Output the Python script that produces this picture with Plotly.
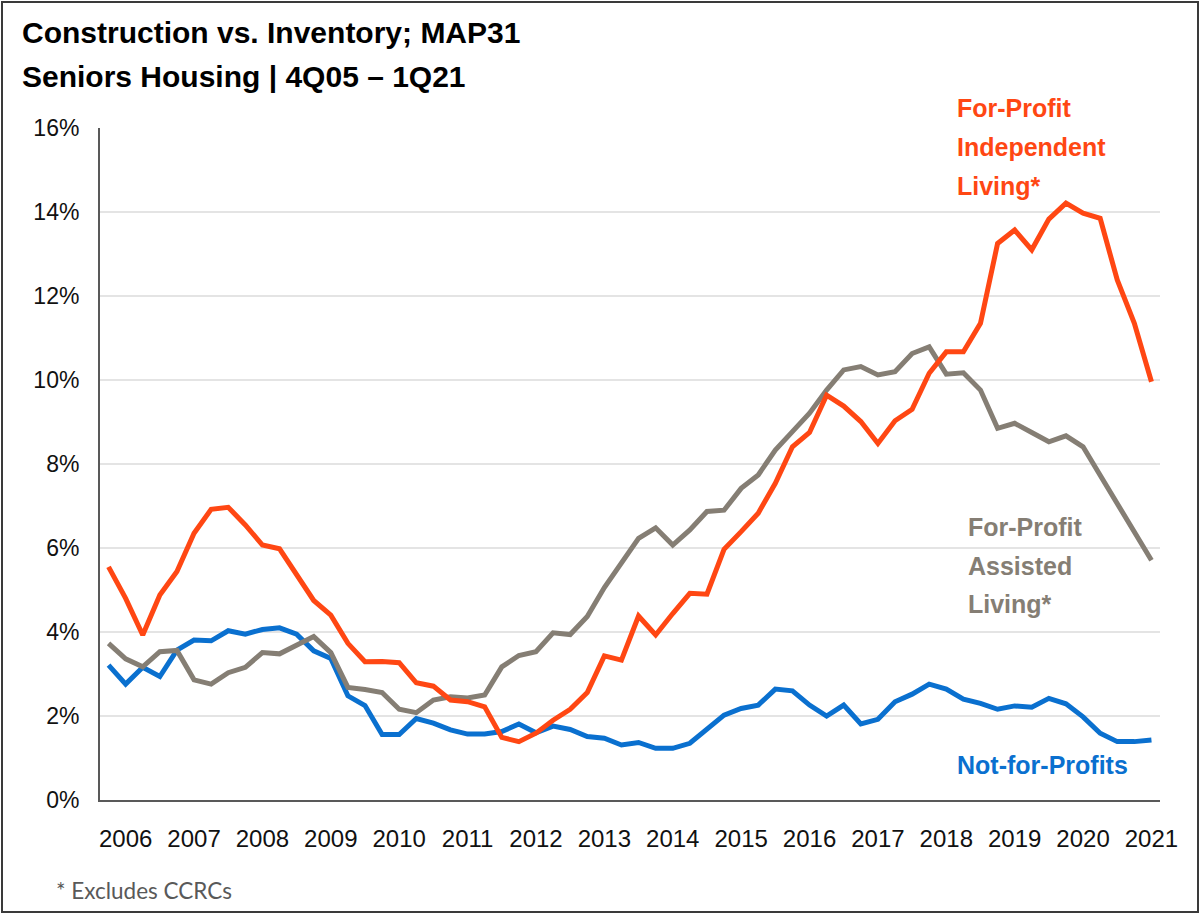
import plotly.graph_objects as go

# Quarter categories 4Q05 .. 1Q21
QUARTERS = ["4Q05"] + [f"{q}Q{y:02d}" for y in range(6, 21) for q in range(1, 5)] + ["1Q21"]

YEAR_TICKS = [f"1Q{y:02d}" for y in range(6, 22)]
YEAR_LABELS = [str(2000 + y) for y in range(6, 22)]

FP_INDEPENDENT = [5.55, 4.80, 3.93, 4.88, 5.44, 6.35, 6.92, 6.97, 6.55, 6.07,
                  5.98, 5.36, 4.75, 4.40, 3.73, 3.29, 3.30, 3.27, 2.79, 2.71,
                  2.38, 2.34, 2.22, 1.49, 1.39, 1.59, 1.90, 2.16, 2.56, 3.43,
                  3.33, 4.38, 3.93, 4.44, 4.92, 4.90, 5.97, 6.39, 6.83, 7.54,
                  8.41, 8.75, 9.64, 9.38, 9.01, 8.49, 9.03, 9.30, 10.16, 10.67,
                  10.67, 11.35, 13.25, 13.57, 13.10, 13.83, 14.21, 13.97, 13.85, 12.38,
                  11.35, 9.96]

FP_ASSISTED = [3.73, 3.36, 3.17, 3.53, 3.56, 2.86, 2.76, 3.03, 3.16, 3.51,
               3.48, 3.69, 3.89, 3.51, 2.68, 2.63, 2.56, 2.16, 2.08, 2.38,
               2.46, 2.43, 2.50, 3.17, 3.44, 3.53, 3.98, 3.94, 4.37, 5.06,
               5.65, 6.23, 6.48, 6.07, 6.43, 6.87, 6.90, 7.42, 7.74, 8.33,
               8.77, 9.21, 9.76, 10.24, 10.32, 10.12, 10.20, 10.63, 10.79, 10.14,
               10.17, 9.76, 8.85, 8.97, 8.75, 8.53, 8.67, 8.41, 7.73, 7.06,
               6.39, 5.71]

NOT_FOR_PROFIT = [3.21, 2.76, 3.16, 2.94, 3.57, 3.81, 3.79, 4.03, 3.95, 4.06,
                  4.10, 3.95, 3.55, 3.37, 2.48, 2.25, 1.56, 1.56, 1.94, 1.83,
                  1.67, 1.57, 1.57, 1.63, 1.81, 1.60, 1.76, 1.68, 1.51, 1.47,
                  1.31, 1.37, 1.23, 1.23, 1.35, 1.67, 2.02, 2.18, 2.26, 2.64,
                  2.60, 2.26, 2.00, 2.26, 1.81, 1.92, 2.34, 2.52, 2.76, 2.64,
                  2.40, 2.30, 2.16, 2.24, 2.21, 2.42, 2.29, 1.98, 1.59, 1.39,
                  1.39, 1.43]

RED = "#FF4713"
GRAY = "#857E74"
BLUE = "#0A70CF"
FONT = "Liberation Sans, Arial, sans-serif"

fig = go.Figure()
for name, vals, col in [("Not-for-Profits", NOT_FOR_PROFIT, BLUE),
                        ("For-Profit Assisted Living*", FP_ASSISTED, GRAY),
                        ("For-Profit Independent Living*", FP_INDEPENDENT, RED)]:
    fig.add_trace(go.Scatter(x=QUARTERS, y=vals, mode="lines", name=name,
                             line=dict(color=col, width=5), showlegend=False))

W, H = 1201, 914
L, R, T, B = 100, 41, 128, 114
PW, PH = W - L - R, H - T - B


def px(x):
    return (x - L) / PW


def py(y):
    return (H - B - y) / PH


annos = []
# Title
for text, yc in [("Construction vs. Inventory; MAP31", 33), ("Seniors Housing | 4Q05 \u2013 1Q21", 76)]:
    annos.append(dict(text=text, x=px(20), y=py(yc), xref="paper", yref="paper",
                      xanchor="left", yanchor="middle", showarrow=False,
                      font=dict(family=FONT, size=30, color="#000000", weight="bold")))
# Series labels
for lines, col, x0, ys in [
    (["For-Profit", "Independent", "Living*"], RED, 955, [108, 147, 186]),
    (["For-Profit", "Assisted", "Living*"], GRAY, 966, [527, 566, 604]),
    (["Not-for-Profits"], BLUE, 955, [765]),
]:
    for t, yc in zip(lines, ys):
        annos.append(dict(text=t, x=px(x0), y=py(yc), xref="paper", yref="paper",
                          xanchor="left", yanchor="middle", showarrow=False,
                          font=dict(family=FONT, size=25, color=col, weight="bold")))
# Footnote
annos.append(dict(text="* Excludes CCRCs", x=px(54), y=py(890), xref="paper", yref="paper",
                  xanchor="left", yanchor="middle", showarrow=False,
                  font=dict(family="Lato, Open Sans, sans-serif", size=22.5, color="#595959")))

fig.update_layout(
    width=W, height=H,
    margin=dict(l=L, r=R, t=T, b=B),
    paper_bgcolor="white", plot_bgcolor="white",
    annotations=annos,
    shapes=[dict(type="rect", xref="paper", yref="paper",
                 x0=px(2), x1=px(1198), y0=py(912), y1=py(2),
                 line=dict(color="#3A3A3A", width=2), fillcolor="rgba(0,0,0,0)", layer="below")],
)
fig.update_xaxes(type="category", range=[-0.5, len(QUARTERS) - 0.5],
                 tickmode="array", tickvals=YEAR_TICKS, ticktext=YEAR_LABELS,
                 showgrid=False, showline=True, linecolor="#595959", linewidth=2,
                 ticks="", ticklabelstandoff=16,
                 tickfont=dict(family=FONT, size=24, color="#111111"))
fig.update_yaxes(range=[0, 16], tickmode="array", tickvals=list(range(0, 17, 2)),
                 ticktext=[f"{v}%" for v in range(0, 17, 2)],
                 showgrid=True, gridcolor="#E4E4E4", gridwidth=1.5, zeroline=False,
                 showline=True, linecolor="#595959", linewidth=2, ticks="",
                 ticklabelstandoff=14,
                 tickfont=dict(family=FONT, size=23, color="#111111"))

fig.write_html("out.html", config={"displayModeBar": False},
               post_script="document.body.style.margin='0';document.body.style.overflow='hidden';")
